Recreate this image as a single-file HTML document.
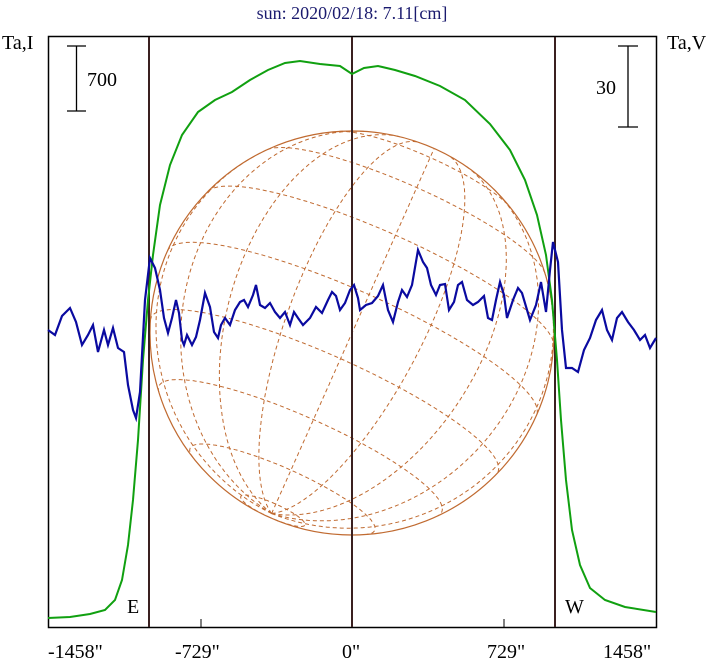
<!DOCTYPE html>
<html><head><meta charset="utf-8"><style>
html,body{margin:0;padding:0;background:#fff;width:708px;height:662px;overflow:hidden}
svg text{font-family:"Liberation Serif",serif}
</style></head><body>
<svg id="s" width="708" height="662" viewBox="0 0 708 662" xmlns="http://www.w3.org/2000/svg">
<rect width="708" height="662" fill="#fff"/>
<text x="352" y="19" font-size="18" fill="#1a1a6e" text-anchor="middle">sun: 2020/02/18: 7.11[cm]</text>
<text x="2" y="49" font-size="20" fill="#000">Ta,I</text>
<text x="667" y="49" font-size="20" fill="#000">Ta,V</text>
<g id="grid" fill="none" stroke="#c06a30" stroke-width="1" stroke-dasharray="4,3"></g>
<circle cx="352" cy="333" r="202" fill="none" stroke="#c06a30" stroke-width="1.2"/>
<rect x="48.5" y="36.5" width="608" height="591" fill="none" stroke="#000" stroke-width="1.5"/>
<line x1="149" y1="37" x2="149" y2="627" stroke="#3a2020" stroke-width="2"/>
<line x1="352" y1="37" x2="352" y2="627" stroke="#3a2020" stroke-width="2"/>
<line x1="555" y1="37" x2="555" y2="627" stroke="#3a2020" stroke-width="2"/>
<line x1="201" y1="619" x2="201" y2="627" stroke="#000"/>
<line x1="504" y1="619" x2="504" y2="627" stroke="#000"/>
<path d="M67,46H86M76.5,46V111M67,111H86" stroke="#000" fill="none" stroke-width="1.3"/>
<text x="87" y="86" font-size="20">700</text>
<path d="M618,46H638M628,46V127M618,127H638" stroke="#000" fill="none" stroke-width="1.3"/>
<text x="596" y="94" font-size="20">30</text>
<path id="g" fill="none" stroke="#10a010" stroke-width="2"/>
<path id="b" fill="none" stroke="#0a0aa0" stroke-width="2.2"/>
<text x="127" y="613" font-size="20">E</text>
<text x="565" y="613" font-size="20">W</text>
<text x="48" y="658" font-size="20">-1458"</text>
<text x="175" y="658" font-size="20">-729"</text>
<text x="342" y="658" font-size="20">0"</text>
<text x="487" y="658" font-size="20">729"</text>
<text x="603" y="658" font-size="20">1458"</text>
</svg>
<script>
(function(){
var cx=352,cy=333,R=202,B=-12*Math.PI/180,P=24*Math.PI/180,d=Math.PI/180;
function pr(lat,lon){lat*=d;lon*=d;
var x=Math.cos(lat)*Math.sin(lon),y=Math.sin(lat)*Math.cos(B)-Math.cos(lat)*Math.cos(lon)*Math.sin(B),
z=Math.cos(lat)*Math.cos(lon)*Math.cos(B)+Math.sin(lat)*Math.sin(B);
var xr=x*Math.cos(P)+y*Math.sin(P),yr=-x*Math.sin(P)+y*Math.cos(P);
return [cx+R*xr,cy-R*yr,z];}
var g=document.getElementById('grid'),out='';
function line(f){var s='',on=false;for(var t=0;t<=360;t++){var p=f(t);if(p[2]>0){s+=(on?'L':'M')+p[0].toFixed(1)+','+p[1].toFixed(1);on=true}else on=false}
 out+='<path d="'+s+'"/>';}
for(var la=-80;la<=80;la+=20){(function(la){line(function(t){return pr(la,-180+t)})})(la)}
for(var lo=-80;lo<=80;lo+=20){(function(lo){line(function(t){return pr(-90+t/2,lo)})})(lo)}
g.innerHTML=out;
var gp=[[48,618],[70,617],[90,614],[105,610],[115,600],[122,580],[128,545],[133,500],[138,440],[143,360],[148,300],[153,255],[160,205],[170,165],[182,135],[198,112],[215,100],[232,92],[250,80],[268,70],[285,63],[300,61],[320,64],[340,66],[352,74],[364,68],[378,66],[395,70],[415,76],[440,86],[465,100],[490,124],[510,150],[525,180],[537,215],[546,255],[552,300],[557,360],[561,420],[566,480],[572,530],[580,565],[590,588],[605,600],[625,607],[656,612]];
document.getElementById('g').setAttribute('d','M'+gp.map(function(p){return p.join(',')}).join('L'));
var bp=[[48,330],[55,335],[62,316],[70,308],[76,322],[82,345],[88,335],[93,325],[98,352],[104,330],[108,345],[113,328],[118,348],[124,352],[128,385],[133,410],[136,418],[140,392],[145,300],[150,258],[155,268],[160,290],[164,318],[168,333],[172,318],[176,300],[179,313],[182,340],[184,345],[187,335],[192,345],[196,337],[200,320],[205,293],[210,307],[214,332],[218,338],[221,325],[225,318],[230,325],[235,310],[240,302],[244,300],[248,307],[253,295],[256,285],[260,305],[265,308],[270,303],[275,312],[280,318],[285,312],[290,325],[294,312],[298,318],[303,325],[310,318],[316,307],[322,313],[328,300],[332,292],[336,296],[340,310],[345,303],[350,290],[354,285],[358,298],[360,310],[366,305],[372,303],[378,296],[383,285],[388,310],[393,322],[398,302],[402,290],[407,297],[412,285],[418,250],[423,262],[427,268],[431,285],[436,295],[440,285],[445,284],[449,310],[454,302],[458,285],[462,282],[467,300],[473,305],[478,302],[484,296],[488,318],[492,320],[496,300],[500,282],[504,295],[507,318],[513,300],[518,288],[522,293],[530,320],[536,305],[541,282],[546,312],[550,270],[553,242],[558,262],[562,330],[566,368],[572,368],[578,372],[584,350],[590,338],[596,320],[602,310],[607,330],[612,340],[617,318],[622,312],[628,322],[634,330],[640,340],[645,335],[650,348],[656,338]];
document.getElementById('b').setAttribute('d','M'+bp.map(function(p){return p.join(',')}).join('L'));
})();
</script>
</body></html>
